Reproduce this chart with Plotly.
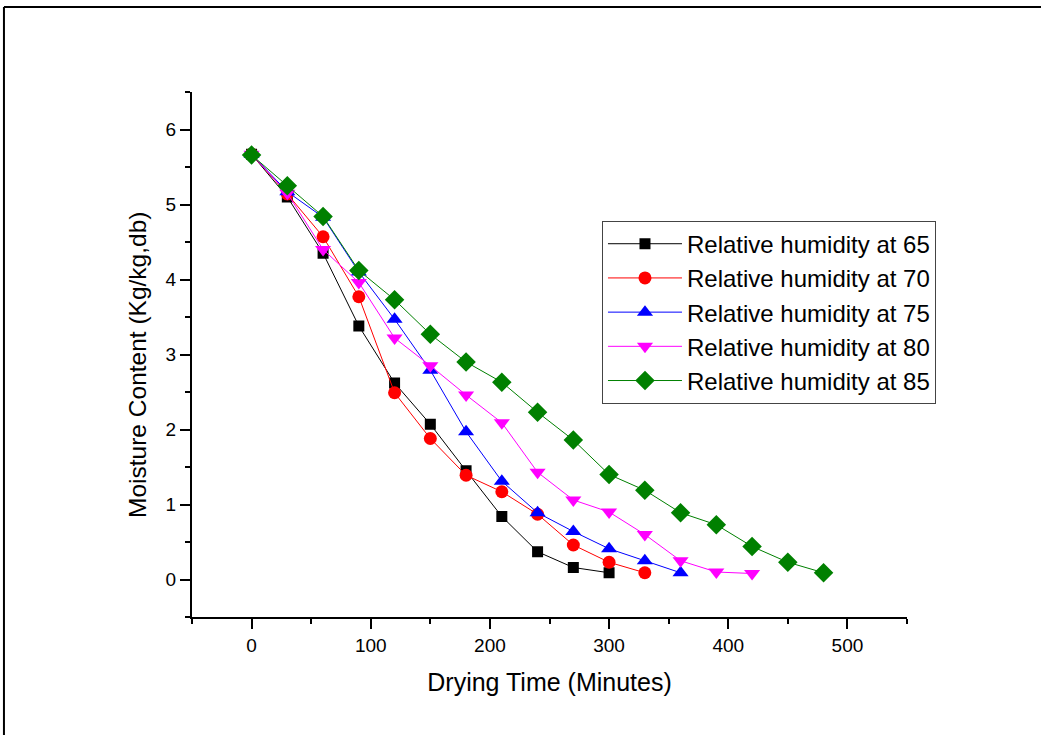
import plotly.graph_objects as go

# ---- data ----
t65 = [0, 30, 60, 90, 120, 150, 180, 210, 240, 270, 300]
m65 = [5.67, 5.10, 4.35, 3.38, 2.62, 2.07, 1.45, 0.84, 0.37, 0.16, 0.09]

t70 = [0, 30, 60, 90, 120, 150, 180, 210, 240, 270, 300, 330]
m70 = [5.67, 5.14, 4.57, 3.77, 2.49, 1.88, 1.39, 1.17, 0.87, 0.46, 0.23, 0.09]

t75 = [0, 30, 60, 90, 120, 150, 180, 210, 240, 270, 300, 330, 360]
m75 = [5.67, 5.17, 4.83, 4.10, 3.47, 2.79, 1.97, 1.31, 0.89, 0.64, 0.41, 0.25, 0.09]

t80 = [0, 30, 60, 90, 120, 150, 180, 210, 240, 270, 300, 330, 360, 390, 420]
m80 = [5.67, 5.15, 4.40, 3.96, 3.22, 2.85, 2.46, 2.09, 1.43, 1.06, 0.90, 0.60, 0.25, 0.10, 0.08]

t85 = [0, 30, 60, 90, 120, 150, 180, 210, 240, 270, 300, 330, 360, 390, 420, 450, 480]
m85 = [5.66, 5.25, 4.84, 4.12, 3.73, 3.27, 2.90, 2.63, 2.23, 1.86, 1.40, 1.19, 0.89, 0.73, 0.44, 0.23, 0.09]

names = ["Relative humidity at 65", "Relative humidity at 70", "Relative humidity at 75",
         "Relative humidity at 80", "Relative humidity at 85"]

x_title = "Drying Time (Minutes)"
y_title = "Moisture Content (Kg/kg,db)"

FONT = "Liberation Sans, Arial, sans-serif"

series = [
    (t65, m65, names[0], "#000000", "square", 11),
    (t70, m70, names[1], "#ff0000", "circle", 13),
    (t75, m75, names[2], "#0000ff", "triangle-up", 14),
    (t80, m80, names[3], "#ff00ff", "triangle-down", 14),
    (t85, m85, names[4], "#008000", "diamond", 15),
]

fig = go.Figure()
for x, y, n, c, sym, sz in series:
    fig.add_trace(go.Scatter(
        x=x, y=y, name=n, mode="lines+markers",
        line=dict(color=c, width=1),
        marker=dict(symbol=sym, size=sz, color=c, line=dict(width=0)),
    ))

axis_common = dict(
    showline=True, linecolor="black", linewidth=2,
    ticks="outside", ticklen=10, tickwidth=2, tickcolor="black",
    showgrid=False, zeroline=False,
    tickfont=dict(family=FONT, size=19, color="black"),
    mirror=False,
)

fig.update_layout(
    width=1041, height=735,
    margin=dict(l=192, r=134, t=92, b=118),
    paper_bgcolor="white", plot_bgcolor="white",
    font=dict(family=FONT, color="black"),
    xaxis=dict(range=[-50, 550], dtick=100, tick0=0,
               minor=dict(dtick=50, ticklen=5, tickwidth=2, tickcolor="black", ticks="outside"),
               title=dict(text=x_title, font=dict(family=FONT, size=25), standoff=19),
               **axis_common),
    yaxis=dict(range=[-0.5, 6.5], dtick=1, tick0=0,
               minor=dict(dtick=0.5, ticklen=5, tickwidth=2, tickcolor="black", ticks="outside"),
               **axis_common),
    legend=dict(
        x=0.5734, y=0.755, xanchor="left", yanchor="top",
        bgcolor="white", bordercolor="#444", borderwidth=1,
        font=dict(family=FONT, size=24, color="black"),
        tracegroupgap=0, itemwidth=74,
    ),
    showlegend=True,
)

# y-axis title (placed slightly below the plot's vertical centre, as in the reference)
fig.add_annotation(text=y_title, textangle=-90, xref="paper", yref="paper",
                   x=-0.077, y=0.48, xanchor="center", yanchor="middle",
                   showarrow=False, font=dict(family=FONT, size=24.5, color="black"))

# outer frame (top and left edges of the figure border)
fig.add_shape(type="line", xref="paper", yref="paper",
              x0=-0.263, x1=1.19, y0=1.162, y1=1.162,
              line=dict(color="black", width=2))
fig.add_shape(type="line", xref="paper", yref="paper",
              x0=-0.263, x1=-0.263, y0=1.162, y1=-0.23,
              line=dict(color="black", width=2))

fig.write_html("out.html")
